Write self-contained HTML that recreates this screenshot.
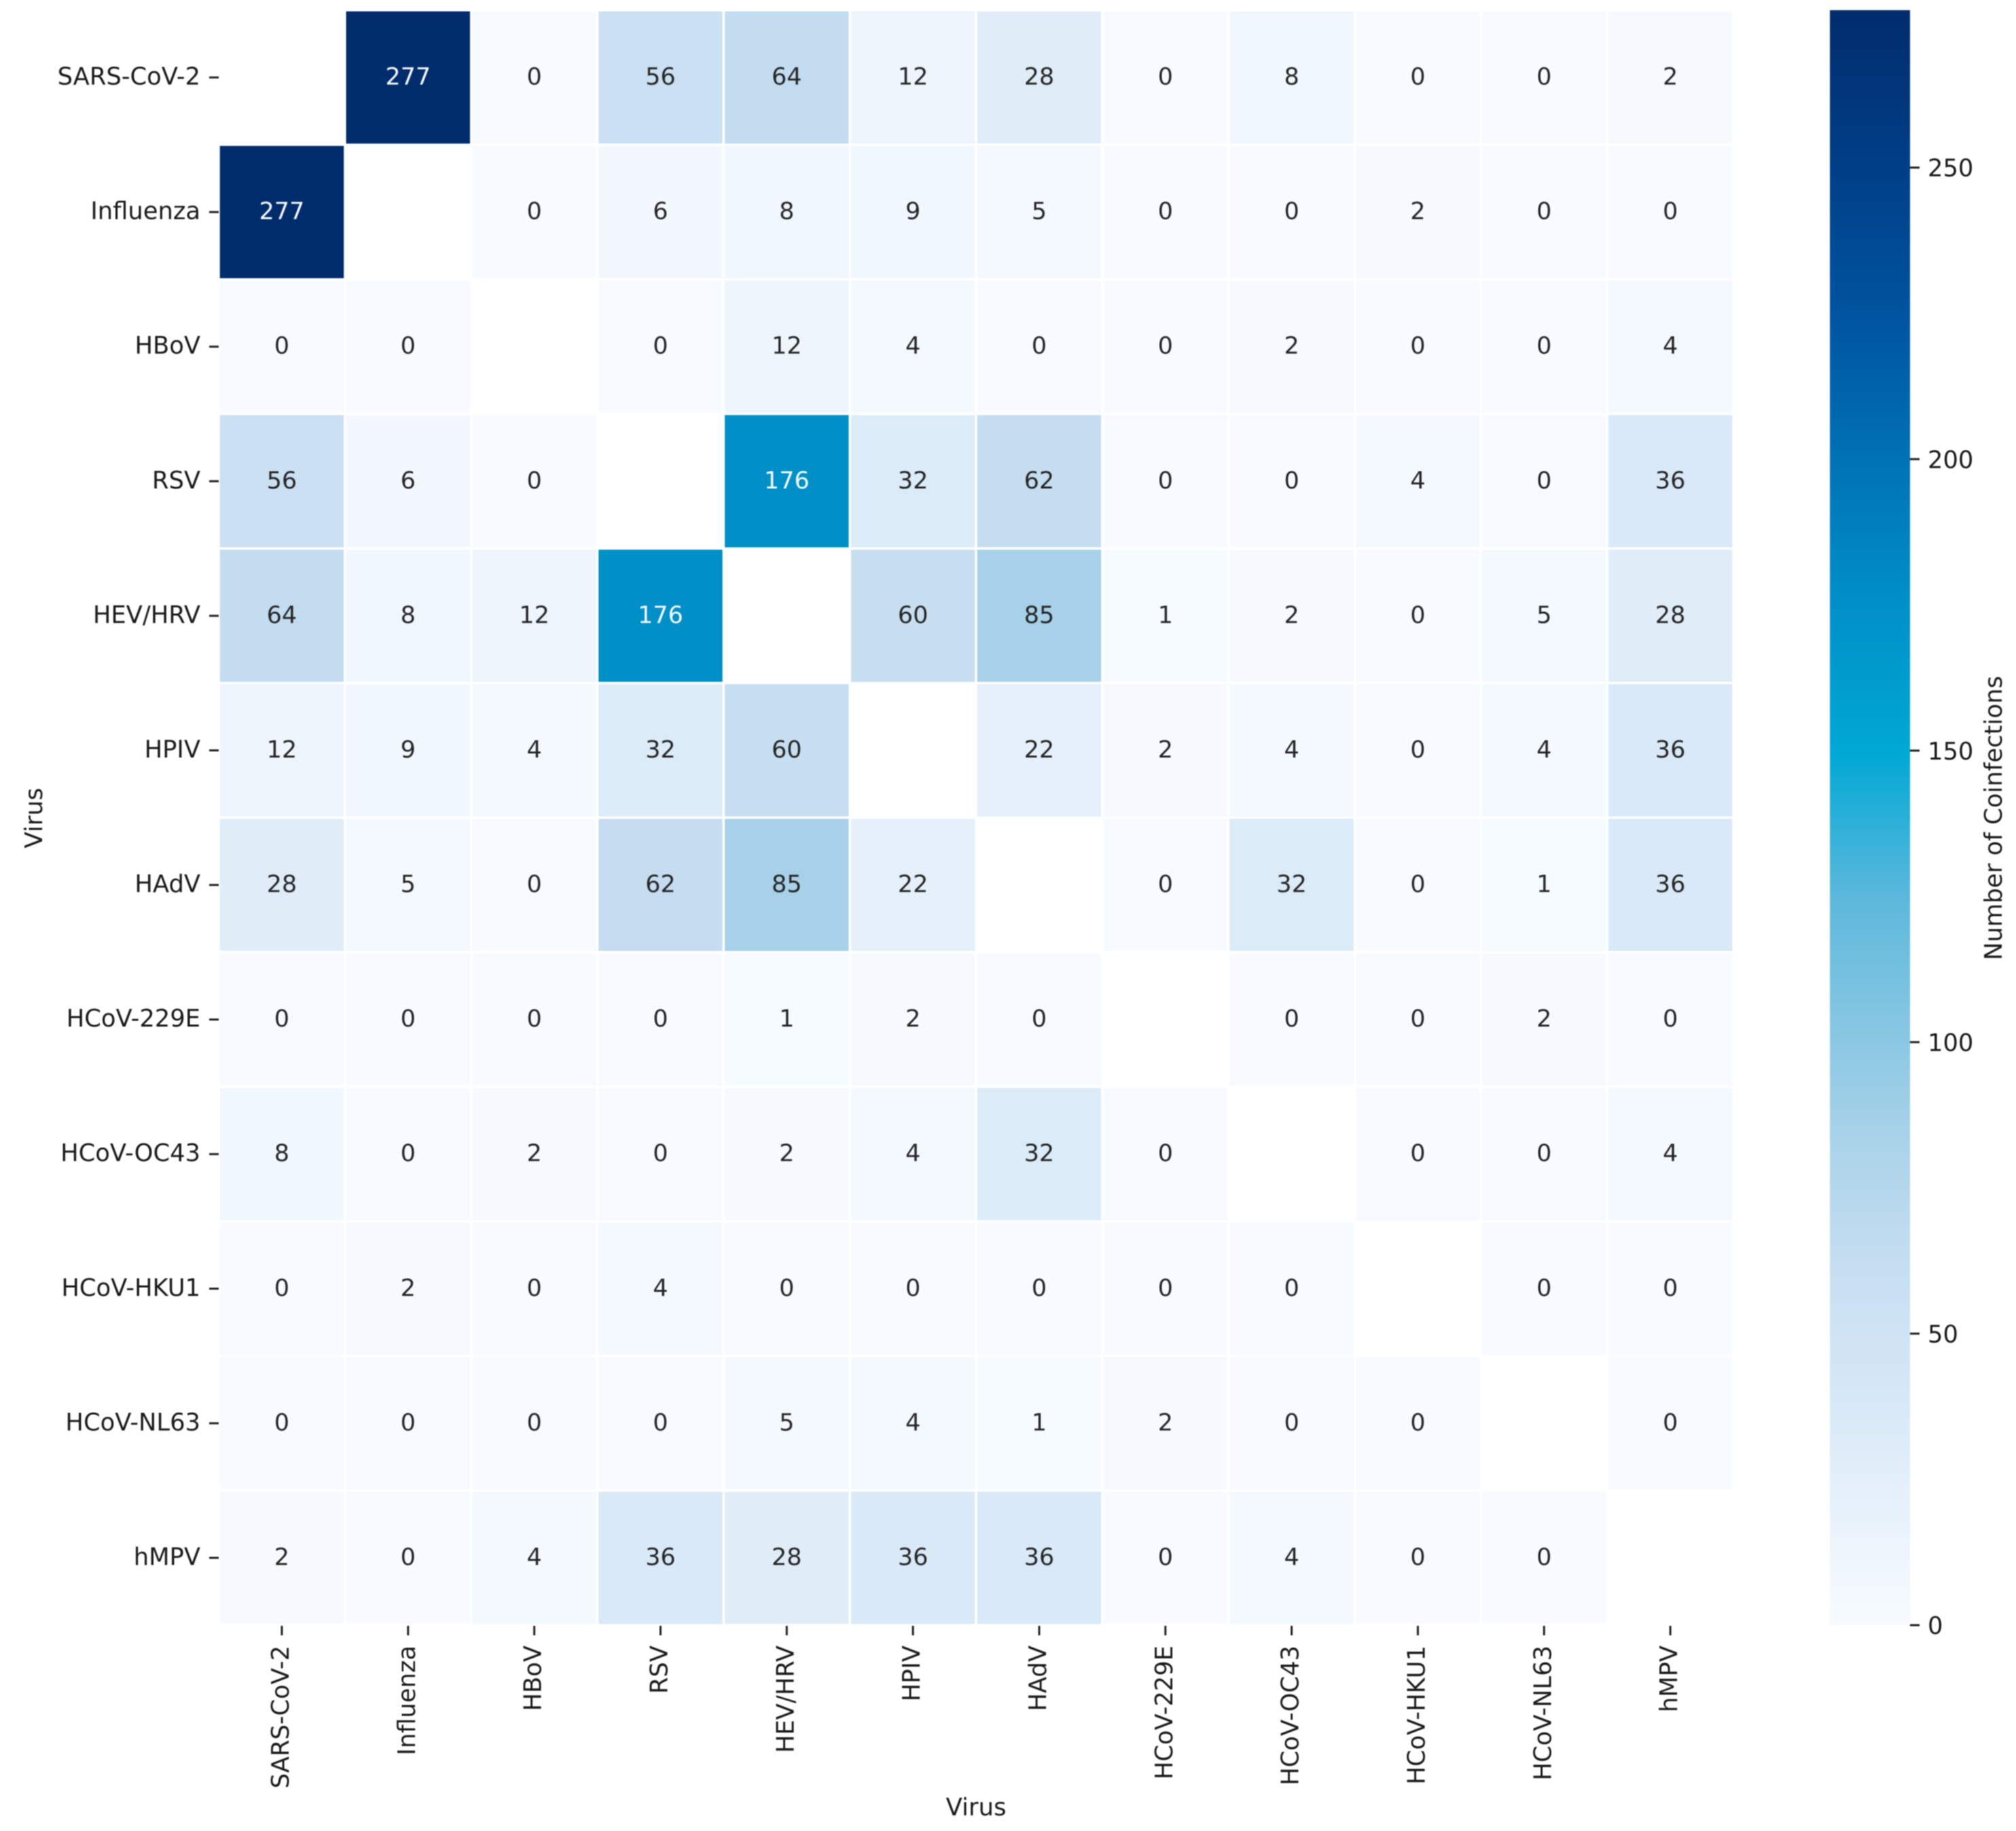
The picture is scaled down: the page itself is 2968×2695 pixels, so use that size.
<!DOCTYPE html>
<html>
<head>
<meta charset="utf-8">
<title>Virus coinfection heatmap</title>
<style>
html,body{margin:0;padding:0;background:#fff;width:2968px;height:2695px;overflow:hidden}
svg{display:block;font-family:"DejaVu Sans","Liberation Sans",sans-serif;filter:blur(0.7px)}
</style>
</head>
<body>
<svg id="chart" width="2968" height="2695" viewBox="0 0 2968 2695" xmlns="http://www.w3.org/2000/svg">
  <defs>
    <linearGradient id="cbar-gradient" x1="0" y1="1" x2="0" y2="0"></linearGradient>
  </defs>
  <rect width="2968" height="2695" fill="#ffffff"></rect>
  <g id="cells"></g>
  <g id="labels"></g>
  <g id="yaxis"></g>
  <g id="xaxis"></g>
  <g id="cbar"></g>
  <text x="62" y="1204" transform="rotate(-90 62 1204)" text-anchor="middle" font-size="35.5" fill="#1a1a1a">Virus</text>
  <text x="1437" y="2672" text-anchor="middle" font-size="35.5" fill="#1a1a1a">Virus</text>
  <text x="2947" y="1204" transform="rotate(-90 2947 1204)" text-anchor="middle" font-size="35.5" fill="#1a1a1a">Number of Coinfections</text>
</svg>
<script>
const categories = ["SARS-CoV-2","Influenza","HBoV","RSV","HEV/HRV","HPIV","HAdV","HCoV-229E","HCoV-OC43","HCoV-HKU1","HCoV-NL63","hMPV"];
const rowSarsCov2 = [null,277,0,56,64,12,28,0,8,0,0,2];
const rowInfluenza = [277,null,0,6,8,9,5,0,0,2,0,0];
const rowHBoV = [0,0,null,0,12,4,0,0,2,0,0,4];
const rowRSV = [56,6,0,null,176,32,62,0,0,4,0,36];
const rowHevHrv = [64,8,12,176,null,60,85,1,2,0,5,28];
const rowHPIV = [12,9,4,32,60,null,22,2,4,0,4,36];
const rowHAdV = [28,5,0,62,85,22,null,0,32,0,1,36];
const rowHCoV229E = [0,0,0,0,1,2,0,null,0,0,2,0];
const rowHCoVOC43 = [8,0,2,0,2,4,32,0,null,0,0,4];
const rowHCoVHKU1 = [0,2,0,4,0,0,0,0,0,null,0,0];
const rowHCoVNL63 = [0,0,0,0,5,4,1,2,0,0,null,0];
const rowHMPV = [2,0,4,36,28,36,36,0,4,0,0,null];
const matrix = [rowSarsCov2,rowInfluenza,rowHBoV,rowRSV,rowHevHrv,rowHPIV,rowHAdV,rowHCoV229E,rowHCoVOC43,rowHCoVHKU1,rowHCoVNL63,rowHMPV];
const colorbarTicks = [0,50,100,150,200,250];

const NS = "http://www.w3.org/2000/svg";
const plot = {left:322, right:2552, top:15, bottom:2392};
const bar = {left:2694, right:2812, top:15, bottom:2392};
const vmax = Math.max(...matrix.flat().filter(v => v !== null));
const rampT = [0, 0.03, 0.08, 0.13, 0.22, 0.31, 0.37, 0.45, 0.54, 0.635, 0.72, 0.81, 0.90, 1];
const rampC = ["#f7fbff","#f1f7fe","#e5f0fa","#d9e9f7","#c7def1","#a5d1e8","#86c6e2","#5cb8dc","#00a8d4","#008fc7","#0072b6","#00549f","#003f88","#012c6c"];

function hexRgb(h){ return [1,3,5].map(i => parseInt(h.substr(i,2),16)); }
function colorFor(v){
  const t = Math.min(1, Math.max(0, v / vmax));
  let i = 0;
  while (i < rampT.length - 2 && t > rampT[i+1]) i++;
  const f = (t - rampT[i]) / (rampT[i+1] - rampT[i]);
  const a = hexRgb(rampC[i]), b = hexRgb(rampC[i+1]);
  const c = a.map((x,k) => Math.round(x + (b[k]-x)*f));
  return "rgb(" + c.join(",") + ")";
}
const xScale = i => plot.left + (plot.right - plot.left) * i / categories.length;
const yScale = i => plot.top + (plot.bottom - plot.top) * i / categories.length;
const barY = v => bar.bottom - (bar.bottom - bar.top) * v / vmax;

function make(tag, attrs, text){
  const el = document.createElementNS(NS, tag);
  for (const k in attrs) el.setAttribute(k, attrs[k]);
  if (text !== undefined) el.textContent = text;
  return el;
}

const cellsG = document.getElementById("cells");
const labelsG = document.getElementById("labels");
const yG = document.getElementById("yaxis");
const xG = document.getElementById("xaxis");
const cbarG = document.getElementById("cbar");

matrix.forEach((row, r) => {
  row.forEach((v, c) => {
    if (v === null) return;
    const rect = make("rect", {
      x: xScale(c), y: yScale(r),
      width: xScale(c+1) - xScale(c), height: yScale(r+1) - yScale(r),
      fill: colorFor(v), stroke: "#ffffff", "stroke-width": 3.4
    });
    
    
    cellsG.appendChild(rect);
    const label = make("text", {
      x: (xScale(c) + xScale(c+1)) / 2,
      y: (yScale(r) + yScale(r+1)) / 2 + 10.5,
      "text-anchor": "middle", "font-size": 35,
      fill: v / vmax > 0.55 ? "#f4f8fc" : "#262626"
    }, String(v));
    
    
    labelsG.appendChild(label);
  });
});

categories.forEach((name, i) => {
  const cy = (yScale(i) + yScale(i+1)) / 2;
  const yTick = make("rect", {x: 308, y: cy - 1.5, width: 14, height: 3, fill: "#222222"});
  
  
  yG.appendChild(yTick);
  const yLabel = make("text", {x: 295, y: cy + 10.5, "text-anchor": "end", "font-size": 35.3, fill: "#1a1a1a"}, name);
  
  
  yG.appendChild(yLabel);

  const cx = (xScale(i) + xScale(i+1)) / 2;
  const xTick = make("rect", {x: cx - 1.5, y: 2393, width: 3, height: 14, fill: "#222222"});
  
  
  xG.appendChild(xTick);
  const bx = cx + 10, by = 2422;
  const xLabel = make("text", {x: bx, y: by, transform: "rotate(-90 " + bx + " " + by + ")", "text-anchor": "end", "font-size": 35.3, fill: "#1a1a1a"}, name);
  
  
  xG.appendChild(xLabel);
});

const grad = document.getElementById("cbar-gradient");
rampT.forEach((t, i) => {
  grad.appendChild(make("stop", {offset: t, "stop-color": rampC[i]}));
});
const barRect = make("rect", {x: bar.left, y: bar.top, width: bar.right - bar.left, height: bar.bottom - bar.top, fill: "url(#cbar-gradient)"});


cbarG.appendChild(barRect);
colorbarTicks.forEach(v => {
  const y = barY(v);
  const tick = make("rect", {x: bar.right, y: y - 1.5, width: 14, height: 3, fill: "#222222"});
  
  
  cbarG.appendChild(tick);
  const tl = make("text", {x: 2838, y: y + 13, "font-size": 35.3, fill: "#1a1a1a"}, String(v));
  
  
  cbarG.appendChild(tl);
});
</script>
</body>
</html>
